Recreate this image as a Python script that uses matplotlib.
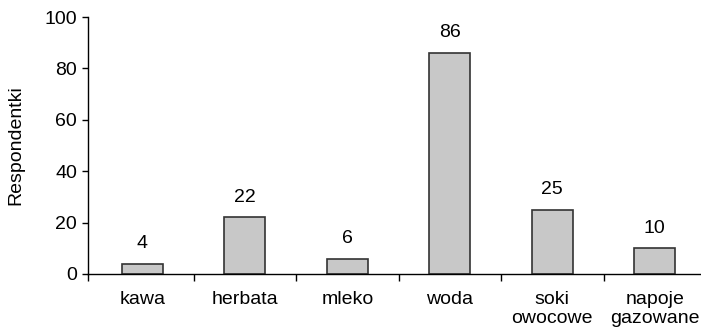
import matplotlib
matplotlib.use("Agg")
import matplotlib.pyplot as plt
import numpy as np

# dane
kategorie = ["kawa", "herbata", "mleko", "woda", "soki\nowocowe", "napoje\ngazowane"]
wartosci = [4, 22, 6, 86, 25, 10]
y_ticks = [0, 20, 40, 60, 80, 100]

plt.rcParams['font.family'] = ['Liberation Sans', 'DejaVu Sans']
fs = 14

fig = plt.figure(figsize=(7.01, 3.29), dpi=100)
ax = fig.add_axes([88 / 701, 55 / 329, 620 / 701, 257 / 329])

x = np.arange(len(kategorie))
ax.bar(x, wartosci, width=0.4, color='#c8c8c8', edgecolor='#333333', linewidth=1.2)

for xi, v in zip(x, wartosci):
    ax.text(xi, v + 4.5, str(v), ha='center', va='bottom', fontsize=fs)

x_left = -0.53
ax.set_xlim(x_left, x_left + 620 / 102.5)
ax.set_ylim(0, 100)
ax.set_yticks(y_ticks)
ax.tick_params(axis='y', labelsize=fs, length=4, width=1, direction='out', pad=4)

# etykiety w srodku, kreski na granicach kategorii (pierwsza przy osi Y)
ax.set_xticks(x)
ax.set_xticklabels(kategorie, fontsize=fs, linespacing=1.2)
granice = [x_left] + list(np.arange(1, len(kategorie)) - 0.5)
ax.set_xticks(granice, minor=True)
ax.tick_params(axis='x', which='major', length=0, pad=12)
ax.tick_params(axis='x', which='minor', length=5, width=1, direction='out')

ax.set_ylabel('Respondentki', fontsize=fs, labelpad=14)

ax.spines['top'].set_visible(False)
ax.spines['right'].set_visible(False)
ax.spines['left'].set_linewidth(1)
ax.spines['bottom'].set_linewidth(1)

fig.savefig('out.png', dpi=100)
plt.close(fig)
